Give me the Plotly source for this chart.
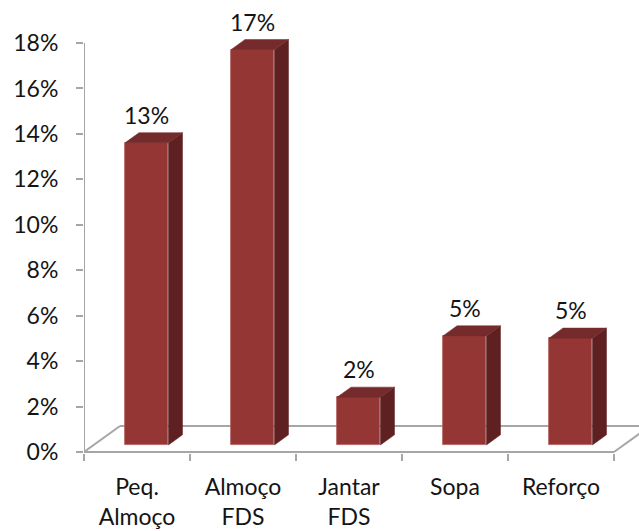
import plotly.graph_objects as go

# Meal categories and their shares
categories = ["Peq.<br>Almoço", "Almoço<br>FDS", "Jantar<br>FDS", "Sopa", "Reforço"]
values = [0.133, 0.174, 0.021, 0.048, 0.047]
y_tick_values = [0.00, 0.02, 0.04, 0.06, 0.08, 0.10, 0.12, 0.14, 0.16, 0.18]

# Oblique projection of the depth axis (data units per unit of depth)
DEPTH_DX = 36 / 106
DEPTH_DY = 26 / 2272
BAR_HALF = 0.205          # half of the bar width, in category units
BAR_D0, BAR_D1 = 0.27, 0.66  # front and back depth of each column

FRONT = "#943634"
SIDE = "#5f2022"
TOP = "#752a2b"
FLOOR = "#a6a6a6"
TEXT = "#141414"
FONT = "Lato"
FONT_SIZE = 23


def project(x, y, d):
    return x + d * DEPTH_DX, y + d * DEPTH_DY


fig = go.Figure()

# Floor outline, kept beneath the columns
for path in (
    [(-0.5, 0), (4.5, 0)],
    [(-0.5, 0), (-0.5, 1)],
    [(-0.5, 1), (4.5, 1)],
    [(4.5, 0), (4.5, 1)],
):
    (x0, y0), (x1, y1) = (project(x, 0, d) for x, d in path)
    fig.add_shape(type="line", xref="x", yref="y", x0=x0, y0=y0, x1=x1, y1=y1,
                  line=dict(color=FLOOR, width=2), layer="below")

# Value axis line
fig.add_shape(type="line", xref="x", yref="y", x0=-0.5, x1=-0.5,
              y0=0, y1=0.18, line=dict(color=FLOOR, width=2), layer="below")

# Front faces of the columns
front_x = [project(i, 0, BAR_D0)[0] for i in range(len(values))]
base_y = project(0, 0, BAR_D0)[1]
fig.add_trace(go.Bar(
    x=front_x, y=values, base=base_y, width=2 * BAR_HALF,
    marker=dict(color=FRONT, line=dict(color="#b4605e", width=0.8)),
    showlegend=False, hoverinfo="skip"))

# Side and top faces of each column
for i, v in enumerate(values):
    side = [project(i + BAR_HALF, 0, BAR_D0), project(i + BAR_HALF, 0, BAR_D1),
            project(i + BAR_HALF, v, BAR_D1), project(i + BAR_HALF, v, BAR_D0)]
    top = [project(i - BAR_HALF, v, BAR_D0), project(i + BAR_HALF, v, BAR_D0),
           project(i + BAR_HALF, v, BAR_D1), project(i - BAR_HALF, v, BAR_D1)]
    for poly, color in ((side, SIDE), (top, TOP)):
        fig.add_trace(go.Scatter(
            x=[p[0] for p in poly] + [poly[0][0]],
            y=[p[1] for p in poly] + [poly[0][1]],
            mode="lines", fill="toself", fillcolor=color,
            line=dict(color=color, width=0.5),
            hoverinfo="skip", showlegend=False))

# Value labels above the columns
for i, v in enumerate(values):
    fig.add_annotation(x=front_x[i], y=base_y + v, text=f"{v:.0%}",
                       showarrow=False, yshift=28, xanchor="center",
                       yanchor="middle",
                       font=dict(family=FONT, size=FONT_SIZE, color=TEXT))

fig.update_layout(
    width=639, height=531,
    margin=dict(l=84, r=0, t=0, b=78),
    plot_bgcolor="white", paper_bgcolor="white",
    bargap=0,
    xaxis=dict(
        range=[-0.5, -0.5 + 555 / 106],
        tickvals=list(range(len(categories))), ticktext=categories,
        ticks="", showgrid=False, zeroline=False, showline=False,
        tickfont=dict(family=FONT, size=FONT_SIZE, color=TEXT),
        ticklabelstandoff=18,
        minor=dict(tickvals=[k - 0.5 for k in range(len(categories) + 1)],
                   ticks="outside", ticklen=7, tickwidth=2,
                   tickcolor=FLOOR, showgrid=False),
    ),
    yaxis=dict(
        range=[-1 / 2272, 452 / 2272],
        tickvals=y_tick_values, tickformat=".0%",
        ticks="outside", ticklen=7, tickwidth=2, tickcolor=FLOOR,
        showgrid=False, zeroline=False, showline=False,
        tickfont=dict(family=FONT, size=FONT_SIZE, color=TEXT),
        ticklabelstandoff=13,
    ),
)

fig.write_html("out.html")
